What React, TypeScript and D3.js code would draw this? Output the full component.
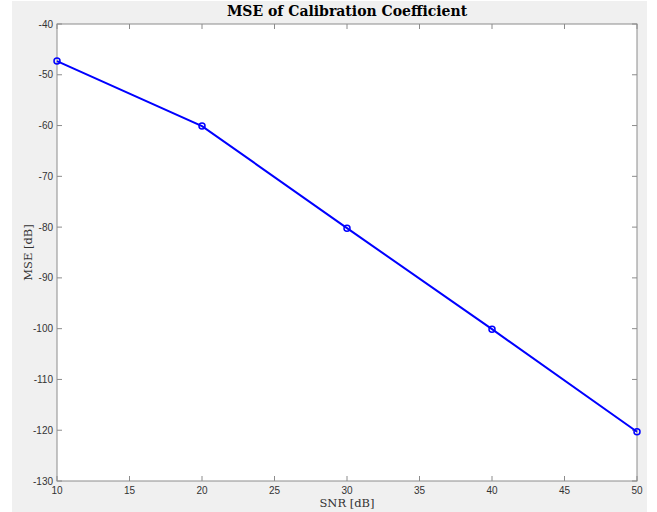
import React from 'react';
import * as d3 from 'd3';

// valores
const snr = [10, 20, 30, 40, 50];
const mse = [-47.3, -60.1, -80.2, -100.1, -120.3];
const xTicks = [10, 15, 20, 25, 30, 35, 40, 45, 50];
const yTicks = [-40, -50, -60, -70, -80, -90, -100, -110, -120, -130];

const W = 657;
const H = 512;
const left = 57;
const right = 637;
const top = 24;
const bottom = 481;

export default function App() {
  const x = d3.scaleLinear().domain([10, 50]).range([left, right]);
  const y = d3.scaleLinear().domain([-40, -130]).range([top, bottom]);

  const line = d3
    .line<number>()
    .x((_, i) => x(snr[i]))
    .y((d) => y(d));

  const axisColor = '#8c8c8c';
  const tickFont = 'Liberation Sans, Arial, sans-serif';
  const serif = 'DejaVu Serif, serif';

  return (
    <svg
      width={W}
      height={H}
      style={{ position: 'absolute', left: 0, top: 0, display: 'block' }}
    >
      <rect x={0} y={0} width={W} height={H} fill="#ffffff" />
      <rect x={12} y={1} width={635} height={H - 1} fill="#f0f0f0" />
      <rect x={left} y={top} width={right - left} height={bottom - top} fill="#ffffff" />

      {/* ticks */}
      {xTicks.map((t) => (
        <g key={'x' + t}>
          <line x1={x(t)} x2={x(t)} y1={bottom} y2={bottom - 5} stroke={axisColor} />
          <line x1={x(t)} x2={x(t)} y1={top} y2={top + 5} stroke={axisColor} />
          <text
            x={x(t)}
            y={bottom + 12.5}
            textAnchor="middle"
            fontSize={10}
            fontFamily={tickFont}
            fill="#333"
          >
            {t}
          </text>
        </g>
      ))}
      {yTicks.map((t) => (
        <g key={'y' + t}>
          <line x1={left} x2={left + 5} y1={y(t)} y2={y(t)} stroke={axisColor} />
          <line x1={right} x2={right - 5} y1={y(t)} y2={y(t)} stroke={axisColor} />
          <text
            x={left - 4}
            y={y(t) + 3.5}
            textAnchor="end"
            fontSize={10}
            fontFamily={tickFont}
            fill="#333"
          >
            {t}
          </text>
        </g>
      ))}

      <rect
        x={left}
        y={top}
        width={right - left}
        height={bottom - top}
        fill="none"
        stroke={axisColor}
      />

      <path d={line(mse) || ''} fill="none" stroke="#0000ff" strokeWidth={2} />
      {mse.map((v, i) => (
        <circle
          key={i}
          cx={x(snr[i])}
          cy={y(v)}
          r={3}
          fill="none"
          stroke="#0000ff"
          strokeWidth={1.5}
        />
      ))}

      <text
        x={(left + right) / 2}
        y={16}
        textAnchor="middle"
        fontSize={14}
        fontWeight="bold"
        fontFamily={serif}
        fill="#000"
      >
        MSE of Calibration Coefficient
      </text>
      <text
        x={(left + right) / 2}
        y={507}
        textAnchor="middle"
        fontSize={11.5}
        fontFamily={serif}
        fill="#333"
      >
        SNR [dB]
      </text>
      <text
        transform={`translate(32, ${(top + bottom) / 2}) rotate(-90)`}
        textAnchor="middle"
        fontSize={11.5}
        fontFamily={serif}
        fill="#333"
      >
        MSE [dB]
      </text>
    </svg>
  );
}
